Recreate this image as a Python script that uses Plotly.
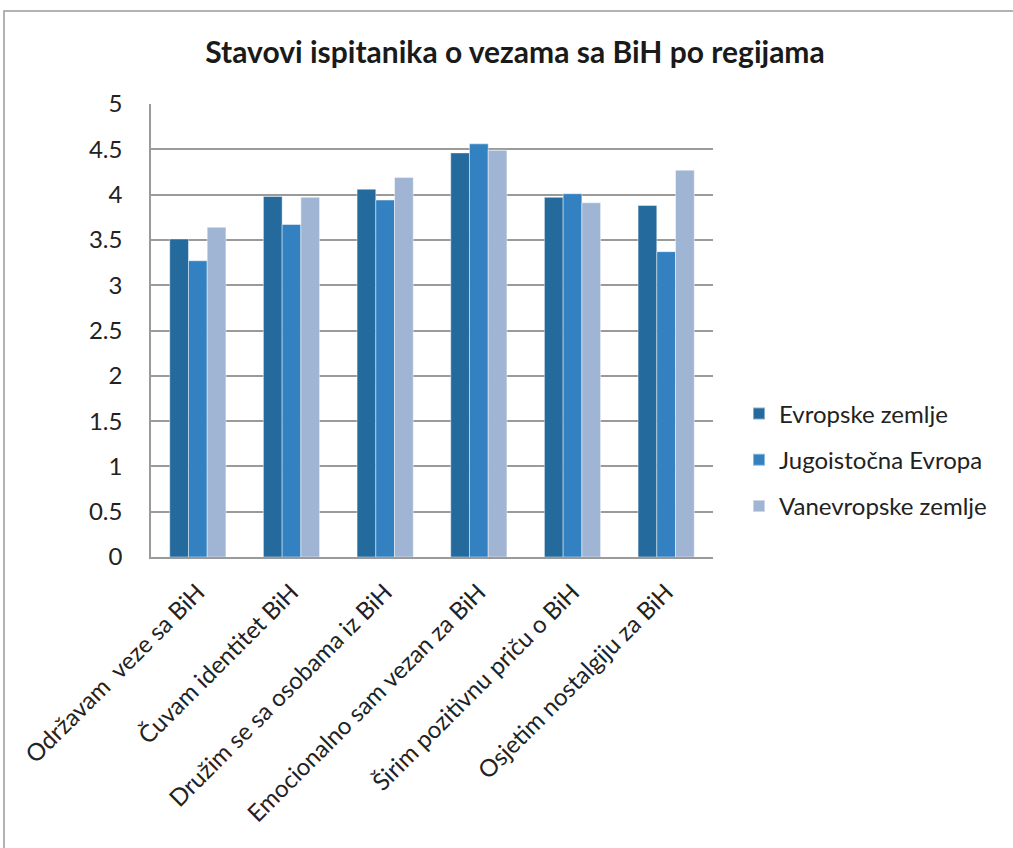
import plotly.graph_objects as go

categories = ["Održavam\u00a0 veze sa BiH", "Čuvam identitet BiH", "Družim se sa osobama iz BiH",
              "Emocionalno sam vezan za BiH", "Širim pozitivnu priču o BiH", "Osjetim nostalgiju za BiH"]
evropske = [3.51, 3.98, 4.06, 4.46, 3.97, 3.88]
jugoistocna = [3.27, 3.67, 3.94, 4.56, 4.01, 3.37]
vanevropske = [3.64, 3.97, 4.19, 4.49, 3.91, 4.27]
series_names = ["Evropske zemlje", "Jugoistočna Evropa", "Vanevropske zemlje"]
colors = ["#256A9D", "#3481C1", "#A0B5D4"]
y_ticks = [0, 0.5, 1, 1.5, 2, 2.5, 3, 3.5, 4, 4.5, 5]
y_tick_text = ["0", "0.5", "1", "1.5", "2", "2.5", "3", "3.5", "4", "4.5", "5"]

FONT = "Lato, 'Open Sans', sans-serif"

fig = go.Figure()
for i, (name, vals, col) in enumerate(zip(series_names, [evropske, jugoistocna, vanevropske], colors)):
    fig.add_trace(go.Bar(x=categories, y=vals, name=name, legendgroup=f"g{i}",
                         marker=dict(color=col, line=dict(color="rgba(255,255,255,0.45)", width=1))))

W, H = 1013, 848
L, R, T, B = 151, 713, 104, 557
fig.update_layout(
    width=W, height=H,
    margin=dict(l=L, r=W - R, t=T, b=H - B, autoexpand=False),
    paper_bgcolor="white", plot_bgcolor="white",
    barmode="group", bargap=0.4, bargroupgap=0,
    font=dict(family=FONT, color="#222222", size=24),
    title=dict(text="<b>Stavovi ispitanika o vezama sa BiH po regijama</b>",
               font=dict(family=FONT, size=30, color="#1a1a1a"),
               x=515 / W, xref="container", xanchor="center",
               y=1 - 52 / H, yref="container", yanchor="middle"),
    legend=dict(x=(739 - L) / (R - L), xanchor="left", y=(B - 460) / (B - T), yanchor="middle",
                font=dict(family=FONT, size=24, color="#222222"),
                tracegroupgap=12, itemsizing="constant", bgcolor="rgba(0,0,0,0)"),
    showlegend=True,
)
fig.update_yaxes(range=[0, 5], tickvals=y_ticks, ticktext=y_tick_text,
                 showgrid=True, gridcolor="#9a9a9a", gridwidth=1.5,
                 showline=True, linecolor="#9a9a9a", linewidth=1.5,
                 ticks="", ticklabelstandoff=22, zeroline=False,
                 tickfont=dict(family=FONT, size=24, color="#222222"), fixedrange=True)
fig.update_xaxes(showline=True, linecolor="#9a9a9a", linewidth=1.5, tickangle=-45,
                 ticks="", ticklabelstandoff=10,
                 tickfont=dict(family=FONT, size=24, color="#222222"), fixedrange=True)

# outer chart border
fig.add_shape(type="rect", xref="paper", yref="paper",
              x0=(4 - L) / (R - L), x1=(1030 - L) / (R - L),
              y0=(B - 870) / (B - T), y1=(B - 11) / (B - T),
              line=dict(color="#9a9a9a", width=1.5), fillcolor="rgba(0,0,0,0)", layer="below")

fig.write_html("out.html", config={"displayModeBar": False},
               post_script="document.body.style.margin='0px';")
